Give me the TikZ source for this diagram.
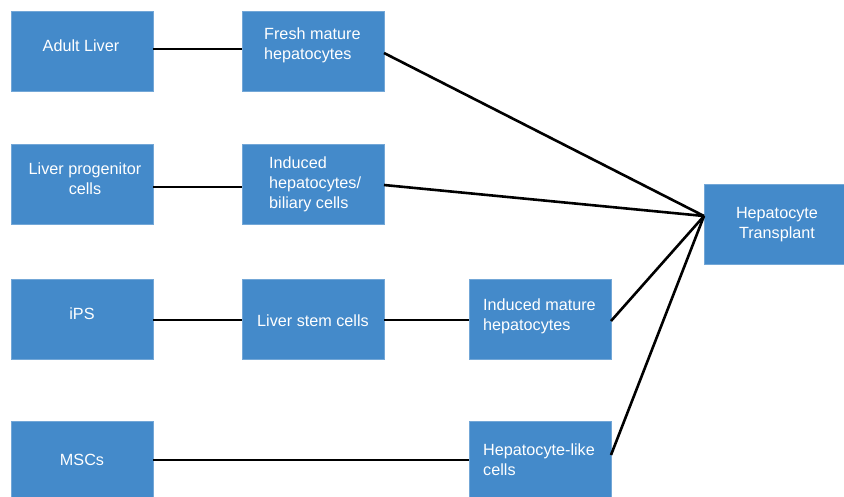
\documentclass[tikz,border=0pt]{standalone}
\usepackage{fontspec}
\setmainfont{Liberation Sans}
\definecolor{boxblue}{RGB}{68,138,202}
\begin{document}
\begin{tikzpicture}[x=1pt,y=-1pt,
  box/.style={fill=boxblue, draw=boxblue!75!white, line width=0.6pt, minimum width=142pt, minimum height=80pt, inner sep=0pt, outer sep=0pt},
  lbl/.style={text=white, font=\fontsize{16.2}{20}\selectfont, inner sep=0pt},
  link/.style={line width=2.6pt, black}]
\useasboundingbox (0,0) rectangle (844,496);
% boxes
\node[box] (al) at (82,51) {};
\node[box] (fm) at (313,51) {};
\node[box] (lp) at (82,184) {};
\node[box] (ih) at (313,184) {};
\node[box] (ips) at (82,319) {};
\node[box] (ls) at (313,319) {};
\node[box] (im) at (540,319) {};
\node[box] (msc) at (82,461) {};
\node[box] (hl) at (540,461) {};
\node[box, minimum width=140pt] (ht) at (774,224) {};
% texts
\node[lbl] (tal) at (81,46) {Adult Liver};
\node[lbl, align=left, anchor=west] (tfm) at (264,45) {Fresh mature\\hepatocytes};
\node[lbl, align=center] (tlp) at (85,179) {Liver progenitor\\cells};
\node[lbl, align=left, anchor=west] (tih) at (269,184) {Induced\\hepatocytes/\\biliary cells};
\node[lbl] (tips) at (82,314) {iPS};
\node[lbl] (tls) at (313,321) {Liver stem cells};
\node[lbl, align=left, anchor=west] (tim) at (483,316) {Induced mature\\hepatocytes};
\node[lbl] (tmsc) at (82,460) {MSCs};
\node[lbl, align=left, anchor=west] (thl) at (483,460) {Hepatocyte-like\\cells};
\node[lbl, align=center] (tht) at (777,225) {Hepatocyte\\Transplant};
% connectors
\coordinate (conv) at (704,216);
\draw[link] ([yshift=2pt]al.east) -- ([yshift=2pt]fm.west);
\draw[link] ([yshift=-3pt]lp.east) -- ([yshift=-3pt]ih.west);
\draw[link] ([yshift=-1pt]ips.east) -- ([yshift=-1pt]ls.west);
\draw[link] ([yshift=-1pt]ls.east) -- ([yshift=-1pt]im.west);
\draw[link] ([yshift=1pt]msc.east) -- ([yshift=1pt]hl.west);
\draw[link] ([yshift=-2pt]fm.east) -- (conv);
\draw[link] ([yshift=-1pt]ih.east) -- (conv);
\draw[link] ([yshift=-2pt]im.east) -- (conv);
\draw[link] ([yshift=6pt]hl.east) -- (conv);
\end{tikzpicture}
\end{document}
